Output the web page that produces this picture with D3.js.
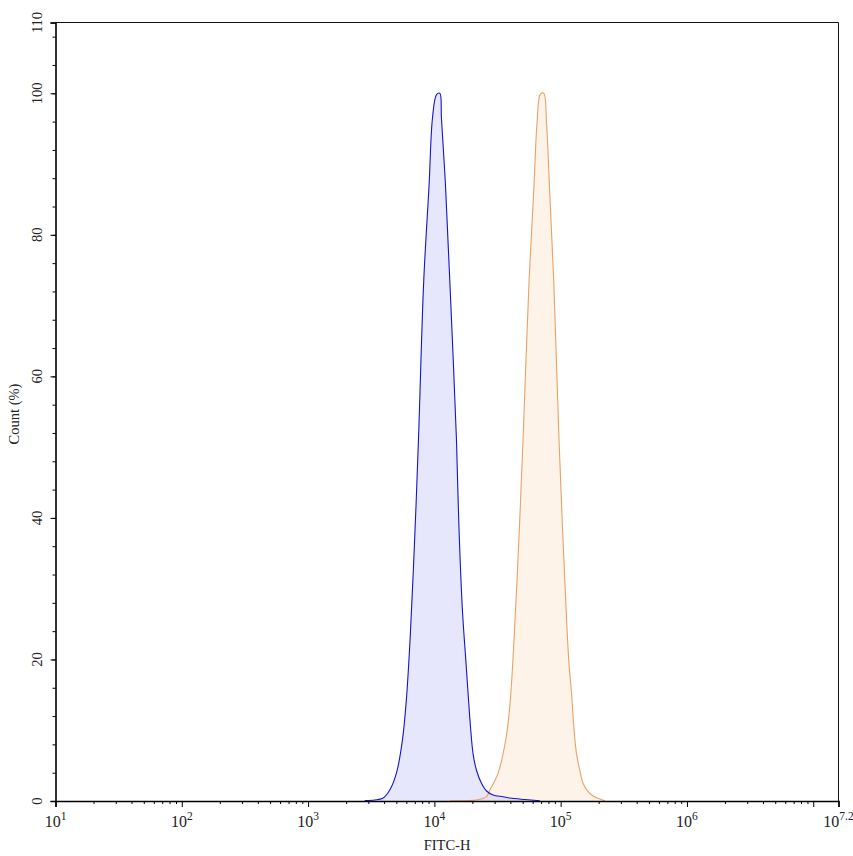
<!DOCTYPE html>
<html>
<head>
<meta charset="utf-8">
<script src="https://cdn.jsdelivr.net/npm/d3@7"></script>
<style>
  body { margin: 0; background: #fff; }
  text { font-family: "Liberation Serif", "DejaVu Serif", serif; fill: #222; }
</style>
</head>
<body>
<div id="chart"></div>
<script>
////////////////////////////////////////////////////////////
//////////////////////// Data //////////////////////////////
////////////////////////////////////////////////////////////

// FITC-H positions are given as log10 exponents
var blueExp = [3.449, 3.528, 3.591, 3.647, 3.700, 3.747, 3.779, 3.811, 3.845, 3.874, 3.916, 3.958, 3.985, 4.017,
    4.043, 4.056, 4.088, 4.122, 4.175, 4.195, 4.222, 4.249, 4.267, 4.286, 4.306, 4.333, 4.373, 4.413, 4.465,
    4.544, 4.597, 4.716, 4.835];
var blueCount = [0.07, 0.14, 0.38, 1.55, 3.96, 8.6, 14.5, 24, 37.5, 51, 73.6, 87, 96.5, 99.8,
    100, 96.5, 87, 73.6, 51, 38.5, 27, 19.9, 15.2, 10.5, 6.74, 4.38, 2.5, 1.41, 0.85,
    0.61, 0.42, 0.21, 0.04];

var orangeExp = [4.122, 4.333, 4.412, 4.439, 4.504, 4.565, 4.597, 4.627, 4.668, 4.702, 4.750, 4.789, 4.813, 4.840,
    4.866, 4.888, 4.911, 4.945, 4.987, 5.016, 5.042, 5.064, 5.086, 5.104, 5.125, 5.151, 5.177, 5.217, 5.257,
    5.296, 5.349];
var orangeCount = [0.04, 0.14, 0.61, 1.55, 3.91, 8.62, 13.3, 21.5, 36.5, 51, 73.6, 87, 95.8, 99.9,
    100, 95.8, 87, 73.6, 51, 38, 27.5, 19.9, 15.2, 10.5, 6.74, 4.38, 2.5, 1.31, 0.7,
    0.38, 0.04];

var xTickExp = [1, 2, 3, 4, 5, 6, 7, 7.2];
var xLabelExp = [1, 2, 3, 4, 5, 6, 7.2];
var yMajorTicks = [0, 20, 40, 60, 80, 100, 110];
var yMinorStep = 4;

////////////////////////////////////////////////////////////
//////////////////////// Set-up ////////////////////////////
////////////////////////////////////////////////////////////

var width = 853, height = 856;
var margin = { left: 55.5, top: 22.5, right: 14.5, bottom: 55 };
var innerW = width - margin.left - margin.right,
    innerH = height - margin.top - margin.bottom;

var svg = d3.select("#chart").append("svg")
    .attr("width", width)
    .attr("height", height);

var g = svg.append("g")
    .attr("transform", "translate(" + margin.left + "," + margin.top + ")");

var x = d3.scaleLog()
    .domain([10, Math.pow(10, 7.2)])
    .range([0, innerW]);

var y = d3.scaleLinear()
    .domain([0, 110])
    .range([innerH, 0]);

////////////////////////////////////////////////////////////
//////////////////////// Histograms ////////////////////////
////////////////////////////////////////////////////////////

function toPoints(exps, counts) {
    return exps.map(function (e, i) { return { v: Math.pow(10, e), c: counts[i] }; });
}

var smooth = d3.curveCatmullRom.alpha(0.5);

var area = d3.area()
    .x(function (d) { return x(d.v); })
    .y0(y(0))
    .y1(function (d) { return Math.min(y(d.c), y(0)); })
    .curve(smooth);

var line = d3.line()
    .x(function (d) { return x(d.v); })
    .y(function (d) { return y(d.c); })
    .curve(smooth);

var series = [
    { pts: toPoints(orangeExp, orangeCount), fill: "#fdf3e8", stroke: "#eba066" },
    { pts: toPoints(blueExp, blueCount), fill: "rgba(205,205,250,0.5)", stroke: "#1515c8" }
];

series.forEach(function (s) {
    g.append("path").attr("d", area(s.pts)).style("fill", s.fill);
});
series.forEach(function (s) {
    g.append("path").attr("d", line(s.pts))
        .style("fill", "none")
        .style("stroke", s.stroke)
        .style("stroke-width", 1.1);
});

////////////////////////////////////////////////////////////
//////////////////////// Axes //////////////////////////////
////////////////////////////////////////////////////////////

// frame on top and right
g.append("path")
    .attr("d", "M0,0H" + innerW + "V" + innerH)
    .style("fill", "none").style("stroke", "#111").style("stroke-width", 1);

// x minor ticks
var xMinor = [];
for (var k = 1; k <= 7; k++) {
    for (var m = 2; m <= 9; m++) {
        var v = m * Math.pow(10, k);
        if (v <= Math.pow(10, 7.2)) xMinor.push(v);
    }
}
var xAxisMinor = g.append("g")
    .attr("transform", "translate(0," + innerH + ")")
    .call(d3.axisBottom(x).tickValues(xMinor).tickSize(3).tickFormat(""));
xAxisMinor.select(".domain").remove();

var xAxis = g.append("g")
    .attr("transform", "translate(0," + innerH + ")")
    .call(d3.axisBottom(x).tickValues(xTickExp.map(function (e) { return Math.pow(10, e); }))
        .tickSize(6).tickFormat(""));
xAxis.select(".domain").style("stroke-width", 1.6);

// power of ten labels
xLabelExp.forEach(function (e) {
    var t = g.append("text")
        .attr("x", x(Math.pow(10, e)))
        .attr("y", innerH + 26)
        .attr("text-anchor", "middle")
        .style("font-size", "16px");
    t.append("tspan").text("10");
    t.append("tspan").attr("dy", -7).style("font-size", "11.5px").text(String(e));
});

// y minor ticks
var yMinor = d3.range(0, 111, yMinorStep);
g.append("g")
    .call(d3.axisLeft(y).tickValues(yMinor).tickSize(3).tickFormat(""))
    .select(".domain").remove();

var yAxis = g.append("g")
    .call(d3.axisLeft(y).tickValues(yMajorTicks).tickSize(5).tickFormat(""));
yAxis.select(".domain").style("stroke-width", 1.6);

yMajorTicks.forEach(function (t) {
    g.append("text")
        .attr("transform", "translate(-14," + y(t) + ") rotate(-90)")
        .attr("text-anchor", "middle")
        .style("font-size", "14.5px")
        .text(t);
});

// axis titles
svg.append("text")
    .attr("transform", "translate(19,414) rotate(-90)")
    .attr("text-anchor", "middle")
    .style("font-size", "14.5px")
    .text("Count  (%)");

svg.append("text")
    .attr("x", 447)
    .attr("y", 850)
    .attr("text-anchor", "middle")
    .style("font-size", "14.5px")
    .text("FITC-H");
</script>
</body>
</html>
